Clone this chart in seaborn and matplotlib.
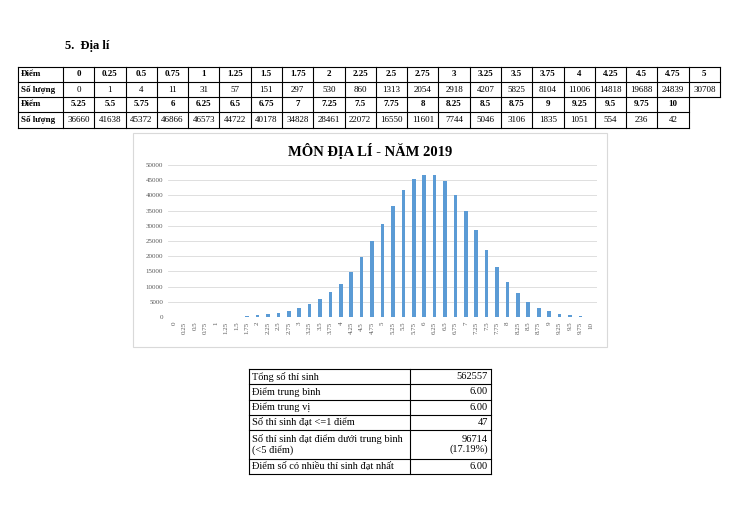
import matplotlib
matplotlib.use("Agg")
import matplotlib.pyplot as plt
import seaborn as sns
import pandas as pd

scores = ["0","0.25","0.5","0.75","1","1.25","1.5","1.75","2","2.25","2.5","2.75","3","3.25","3.5","3.75","4","4.25","4.5","4.75","5",
          "5.25","5.5","5.75","6","6.25","6.5","6.75","7","7.25","7.5","7.75","8","8.25","8.5","8.75","9","9.25","9.5","9.75","10"]
counts = [0,1,4,11,31,57,151,297,530,860,1313,2054,2918,4207,5825,8104,11006,14818,19688,24839,30708,
          36660,41638,45372,46866,46573,44722,40178,34828,28461,22072,16550,11601,7744,5046,3106,1835,1051,554,236,42]
stat_labels = ["Tổng số thí sinh","Điểm trung bình","Điểm trung vị","Số thí sinh đạt <=1 điểm",
               "Số thí sinh đạt điểm dưới trung bình\n(<5 điểm)","Điểm số có nhiều thí sinh đạt nhất"]
stat_values = ["562557","6.00","6.00","47","96714\n(17.19%)","6.00"]

plt.rcParams["font.family"] = "Liberation Serif"
W, H = 739, 522
fig = plt.figure(figsize=(W/100, H/100), dpi=100)
bg = fig.add_axes([0, 0, 1, 1])
bg.set_xlim(0, W); bg.set_ylim(H, 0); bg.axis("off")

bg.text(65, 46, "5.  Địa lí", fontsize=9, fontweight="bold", va="center")

# top table
rows_y = [67, 82, 97, 112, 128]
x0, c1 = 18, 63
cw = (720 - 63) / 21
def hl(y, xa, xb): bg.plot([xa, xb], [y, y], color="black", lw=0.8)
def vl(x, ya, yb): bg.plot([x, x], [ya, yb], color="black", lw=0.8)
hl(67, x0, 720); hl(82, x0, 720); hl(97, x0, 720)
hl(112, x0, c1 + 20*cw); hl(128, x0, c1 + 20*cw)
vl(x0, 67, 128); vl(c1, 67, 128)
for i in range(1, 22):
    vl(c1 + i*cw, 67, 97)
for i in range(1, 21):
    vl(c1 + i*cw, 97, 128)
for r, (lab, vals, bold) in enumerate([("Điểm", scores[:21], True), ("Số lượng", counts[:21], False),
                                        ("Điểm", scores[21:], True), ("Số lượng", counts[21:], False)]):
    yc = (rows_y[r] + rows_y[r+1]) / 2
    bg.text(x0 + 3, yc, lab, fontsize=6.5, fontweight="bold", va="center")
    for i, v in enumerate(vals):
        bg.text(c1 + (i+0.5)*cw, yc, str(v), fontsize=6.5, va="center", ha="center",
                fontweight="bold" if bold else "normal")

# chart frame
bg.add_patch(plt.Rectangle((133, 133), 474, 214, fill=False, ec="#d9d9d9", lw=0.8))
bg.text(370, 151, "MÔN ĐỊA LÍ - NĂM 2019", fontsize=10.5, fontweight="bold", ha="center", va="center")

ax = fig.add_axes([168/W, 1-317/H, (597-168)/W, (317-165)/H])
df = pd.DataFrame({"score": scores, "count": counts})
sns.barplot(data=df, x="score", y="count", order=scores, color="#5b9bd5", width=0.35, ax=ax, saturation=1)
ax.set_ylim(0, 50000)
ax.set_yticks(range(0, 50001, 5000))
ax.yaxis.grid(True, color="#d9d9d9", lw=0.6)
ax.set_axisbelow(True)
for s in ax.spines.values(): s.set_visible(False)
ax.tick_params(length=0, labelsize=5, colors="#595959")
ax.set_xticklabels(scores, rotation=90)
ax.set_xlabel(""); ax.set_ylabel("")
ax.set_xlim(-0.6, len(scores) - 0.4)

# stats table
ys = [369, 384, 400, 415, 430, 459, 474]
xa, xm, xb = 249, 410, 491
for y in ys: hl(y, xa, xb)
vl(xa, 369, 474); vl(xm, 369, 474); vl(xb, 369, 474)
for i, (l, v) in enumerate(zip(stat_labels, stat_values)):
    yc = (ys[i] + ys[i+1]) / 2
    bg.text(xa + 3, yc, l, fontsize=7.5, va="center", linespacing=1.1)
    bg.text(xb - 3, yc, v, fontsize=7.5, va="center", ha="right", multialignment="right", linespacing=1.1)

fig.savefig("out.png", dpi=100, facecolor="white")
